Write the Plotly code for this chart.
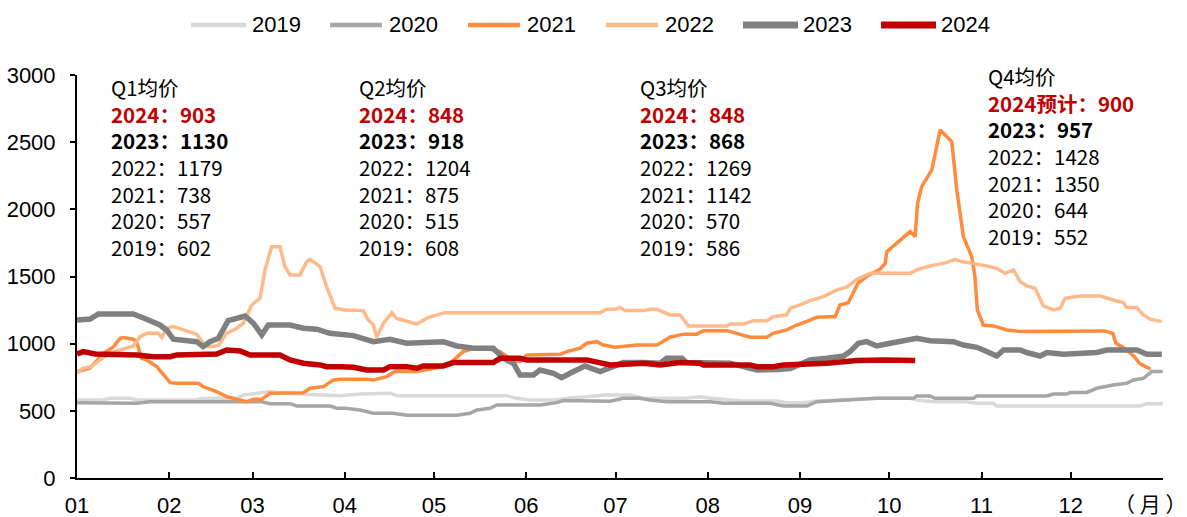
import plotly.graph_objects as go

# ---------------- data (x = day of year, 0 = 1 Jan) ----------------
month_ticks = [0, 31, 59, 90, 120, 151, 181, 212, 243, 273, 304, 334]
month_labels = ["01", "02", "03", "04", "05", "06", "07", "08", "09", "10", "11", "12"]

day_2019 = [0, 8.9, 11.1, 17.8, 20.1, 40.2, 42.4, 53.7, 55.9, 60.4, 64.9, 69.4, 88.4, 95.1, 105.2, 107.5,
            144.4, 147.7, 152.3, 161.2, 164.6, 171.3, 178.0, 185.9, 190.4, 204.9, 209.4, 212.8, 224.0,
            235.2, 238.5, 244.1, 248.6, 268.8, 280.0, 282.2, 287.8, 298.9, 302.4, 307.9, 309.1, 357.3,
            359.6, 364.9]
price_2019 = [581, 581, 593, 593, 581, 581, 593, 593, 618, 630, 643, 630, 613, 625, 630, 613,
              613, 593, 581, 581, 593, 605, 618, 618, 593, 593, 605, 593, 573,
              573, 561, 561, 573, 593, 593, 581, 568, 568, 556, 556, 536, 536,
              553, 553]

day_2020 = [0, 20.1, 24.6, 62.1, 64.9, 71.6, 73.9, 85.0, 87.3, 90.1, 95.1, 99.6, 106.3, 110.8, 127.6,
            132.1, 134.4, 138.8, 141.1, 155.6, 161.2, 163.5, 179.2, 183.6, 189.2, 192.6, 198.2, 212.8,
            217.3, 233.0, 237.4, 245.3, 248.6, 257.6, 268.8, 281.1, 282.2, 286.7, 288.4, 301.3, 302.4,
            325.9, 328.2, 332.7, 333.8, 339.4, 342.7, 348.3, 352.8, 355.1, 358.4, 361.2, 364.9]
price_2020 = [561, 556, 568, 568, 553, 553, 536, 536, 519, 519, 506, 482, 482, 467, 467,
              482, 506, 519, 544, 544, 561, 576, 572, 593, 593, 581, 568, 568,
              556, 556, 536, 536, 568, 581, 593, 593, 611, 611, 593, 593, 611,
              611, 625, 625, 637, 637, 668, 692, 705, 730, 742, 792, 792]

day_2021 = [0, 4.4, 8.9, 12.3, 14.5, 15.6, 18.9, 20.1, 21.7, 23.4, 26.8, 31.3, 33.5, 40.8, 42.4, 46.9,
            50.3, 54.8, 57.0, 59.3, 62.1, 64.9, 76.1, 78.3, 82.8, 86.2, 88.4, 97.4, 99.6, 104.1, 106.9,
            114.2, 117.5, 123.1, 125.3, 129.8, 133.2, 137.6, 142.2, 146.7, 148.9, 151.2, 162.4, 164.6,
            169.1, 171.3, 174.7, 176.9, 180.8, 188.1, 194.9, 199.3, 203.8, 208.3, 210.5, 218.4, 221.7,
            226.2, 231.8, 234.0, 238.5, 241.9, 246.4, 248.6, 252.5, 254.8, 256.4, 259.2, 262.5, 265.4,
            269.9, 271.6, 272.2, 280.0, 281.7, 282.5, 283.9, 287.3, 290.1, 294.0, 295.7, 297.9, 300.7,
            301.8, 302.6, 304.6, 308.0, 312.5, 317.0, 345.3, 348.1, 349.2, 352.0, 355.4, 357.1, 360.8]
price_2021 = [790, 820, 928, 978, 1040, 1046, 1033, 1010, 891, 879, 829, 710, 705, 705, 680, 643,
              606, 581, 568, 586, 586, 631, 635, 668, 680, 730, 735, 735, 730, 755, 792,
              792, 804, 829, 854, 941, 966, 966, 940, 870, 866, 916, 921, 941,
              966, 1003, 1015, 990, 973, 990, 990, 1048, 1071, 1071, 1097, 1097, 1077,
              1048, 1048, 1077, 1103, 1139, 1176, 1196, 1201, 1201, 1288, 1305, 1450, 1500,
              1554, 1598, 1685, 1834, 1797, 2045, 2169, 2293, 2591, 2504, 2144, 1797, 1648,
              1499, 1251, 1139, 1132, 1102, 1090, 1095, 1077, 1003, 966, 903, 854, 809]

day_2022 = [0, 2.1, 4.9, 7.7, 11.1, 14.5, 18.9, 21.2, 23.4, 27.3, 28.5, 30.1, 32.4, 40.2, 43.0, 44.7,
            47.5, 50.3, 53.7, 55.9, 58.7, 61.5, 63.2, 65.4, 68.2, 69.9, 71.6, 74.9, 77.2, 78.3, 81.7,
            83.9, 86.7, 90.1, 96.2, 97.9, 99.6, 100.7, 103.0, 105.8, 107.5, 114.2, 118.1, 123.7, 175.8,
            178.0, 180.8, 182.5, 184.2, 190.4, 192.6, 194.9, 199.3, 202.7, 205.5, 218.4, 219.5, 224.0,
            227.3, 231.8, 234.0, 238.5, 239.7, 243.0, 246.4, 250.9, 255.4, 258.7, 262.1, 266.6, 271.6,
            280.0, 282.2, 286.7, 292.3, 295.1, 297.3, 301.3, 305.8, 309.1, 311.9, 314.7, 317.0, 319.2,
            322.0, 324.8, 328.2, 330.4, 332.1, 337.1, 343.9, 348.3, 351.7, 352.8, 356.2, 358.4, 360.7,
            364.6]
price_2022 = [780, 817, 829, 879, 929, 953, 983, 1052, 1077, 1077, 1046, 1115, 1127, 1071, 990, 978,
              985, 1077, 1115, 1152, 1288, 1338, 1549, 1722, 1722, 1573, 1512, 1512, 1611, 1628, 1573,
              1425, 1264, 1251, 1246, 1176, 1139, 1048, 1152, 1231, 1188, 1146, 1196, 1231, 1231,
              1256, 1256, 1269, 1246, 1246, 1256, 1256, 1214, 1214, 1132, 1132, 1146, 1146,
              1171, 1171, 1201, 1214, 1264, 1288, 1320, 1350, 1400, 1420, 1479, 1524, 1524,
              1524, 1549, 1579, 1603, 1628, 1611, 1598, 1579, 1561, 1524, 1549, 1462, 1430,
              1412, 1281, 1251, 1264, 1338, 1355, 1355, 1325, 1306, 1269, 1269, 1214, 1182,
              1164]

day_2023 = [0, 4.4, 7.2, 18.9, 23.4, 27.9, 30.1, 32.4, 40.2, 42.4, 44.7, 47.5, 50.8, 56.5, 59.3, 62.1,
            64.3, 71.6, 76.1, 80.6, 85.0, 90.1, 92.9, 99.6, 105.2, 110.8, 117.5, 123.1, 127.6, 133.2,
            139.9, 143.3, 146.7, 148.9, 153.4, 155.6, 160.1, 162.9, 165.7, 170.7, 175.8, 180.8, 183.6,
            190.4, 196.0, 198.2, 203.3, 204.9, 219.5, 224.0, 228.5, 235.2, 239.7, 241.9, 246.4, 252.0,
            257.6, 259.8, 262.6, 265.4, 268.8, 273.3, 281.1, 282.2, 286.7, 294.6, 297.9, 302.4, 305.8,
            309.1, 311.4, 317.0, 319.2, 323.7, 326.0, 331.5, 342.7, 346.1, 356.2, 359.6, 364.6]
price_2023 = [1176, 1183, 1221, 1221, 1182, 1139, 1102, 1033, 1015, 978, 1015, 1040, 1171, 1206, 1152, 1065,
              1139, 1139, 1115, 1108, 1077, 1065, 1060, 1015, 1033, 1003, 1015, 1015, 983, 966,
              966, 891, 854, 767, 767, 804, 780, 747, 780, 834, 792, 829, 859,
              859, 855, 891, 891, 859, 855, 829, 804, 808, 815, 836, 879, 891,
              908, 941, 1003, 1015, 983, 1003, 1028, 1040, 1022, 1015, 990, 973, 941,
              908, 953, 953, 934, 908, 934, 921, 934, 953, 953, 921, 921]

day_2024 = [0, 2.1, 6.1, 20.1, 25.6, 31.3, 33.5, 47.0, 50.3, 54.8, 58.2, 68.2, 71.6, 76.1, 81.7, 83.9,
            88.4, 92.9, 97.4, 103.0, 105.2, 110.8, 114.2, 116.4, 123.1, 126.5, 139.9, 142.2, 148.9,
            151.2, 171.3, 176.9, 179.2, 190.4, 196.0, 202.7, 209.4, 210.5, 226.2, 228.5, 234.0, 237.4,
            252.0, 262.1, 271.6, 281.7]
price_2024 = [923, 941, 923, 916, 903, 903, 916, 923, 953, 946, 916, 916, 879, 854, 842, 829,
              829, 824, 804, 804, 829, 829, 817, 834, 834, 859, 859, 891, 891,
              879, 879, 854, 842, 854, 842, 859, 854, 842, 842, 829, 829, 842,
              854, 874, 879, 874]

series_names = ["2019", "2020", "2021", "2022", "2023", "2024"]
series_days = [day_2019, day_2020, day_2021, day_2022, day_2023, day_2024]
series_prices = [price_2019, price_2020, price_2021, price_2022, price_2023, price_2024]
series_colors = ["#D9D9D9", "#A6A6A6", "#FF8B3D", "#FFB98A", "#808080", "#C00000"]
series_widths = [3.5, 3.5, 3.5, 3.5, 5.5, 5.5]

# quarterly average text blocks
quarter_titles = ["Q1均价", "Q2均价", "Q3均价", "Q4均价"]
quarter_2024 = ["2024：903", "2024：848", "2024：848", "2024预计：900"]
quarter_2023 = ["2023：1130", "2023：918", "2023：868", "2023：957"]
quarter_rest = [
    ["2022：1179", "2021：738", "2020：557", "2019：602"],
    ["2022：1204", "2021：875", "2020：515", "2019：608"],
    ["2022：1269", "2021：1142", "2020：570", "2019：586"],
    ["2022：1428", "2021：1350", "2020：644", "2019：552"],
]
quarter_x = [11.1, 94.5, 188.8, 305.9]
quarter_mid = [2316, 2316, 2316, 2398]

# ---------------- figure ----------------
PLOT_L, PLOT_R, PLOT_T, PLOT_B = 77, 1163, 75, 478
W, H = 1187, 517

fig = go.Figure()
for name, xs, ys, col, w in zip(series_names, series_days, series_prices, series_colors, series_widths):
    fig.add_trace(go.Scatter(x=xs, y=ys, name=name, mode="lines", showlegend=False,
                             line=dict(color=col, width=w), hoverinfo="skip"))

cjk = "Noto Sans CJK SC"
latin = "Liberation Sans, Arial"
ann = []
for qi in range(4):
    lines = [quarter_titles[qi],
             "<span style='color:#C00000'><b>%s</b></span>" % quarter_2024[qi],
             "<b>%s</b>" % quarter_2023[qi]] + quarter_rest[qi]
    ann.append(dict(x=quarter_x[qi], y=quarter_mid[qi], xref="x", yref="y",
                    text="<br>".join(lines), showarrow=False, align="left",
                    xanchor="left", yanchor="middle", borderpad=0,
                    font=dict(family=cjk, size=20.5, color="#000000")))
ann.append(dict(x=(1150 - PLOT_L) / (PLOT_R - PLOT_L), y=-(503 - PLOT_B) / (PLOT_B - PLOT_T),
                xref="paper", yref="paper", text="（ 月 ）", showarrow=False,
                xanchor="center", yanchor="middle", font=dict(family=cjk, size=21, color="#000000")))

# manual legend (line samples + labels) drawn above the plot
legend_line_px = [(191, 246), (330, 382), (468, 520), (606, 658), (743, 798), (881, 936)]
legend_text_px = [251, 388, 526, 664, 802, 940]
legend_y = (PLOT_B - 25) / (PLOT_B - PLOT_T)
legend_line_w = [4.5, 4.5, 4.5, 4.5, 7, 7]
shapes = []
for i, name in enumerate(series_names):
    x0, x1 = legend_line_px[i]
    shapes.append(dict(type="line", xref="paper", yref="paper",
                       x0=(x0 - PLOT_L) / (PLOT_R - PLOT_L), x1=(x1 - PLOT_L) / (PLOT_R - PLOT_L),
                       y0=legend_y, y1=legend_y,
                       line=dict(color=series_colors[i], width=legend_line_w[i])))
    ann.append(dict(x=(legend_text_px[i] - PLOT_L) / (PLOT_R - PLOT_L), y=legend_y,
                    xref="paper", yref="paper", text=name, showarrow=False,
                    xanchor="left", yanchor="middle", borderpad=0,
                    font=dict(family=latin, size=22, color="#000000")))

fig.update_layout(
    width=W, height=H,
    margin=dict(l=PLOT_L, r=W - PLOT_R, t=PLOT_T, b=H - PLOT_B, autoexpand=False),
    paper_bgcolor="white", plot_bgcolor="white",
    font=dict(family=latin, size=22, color="#000000"),
    showlegend=False,
    annotations=ann,
    shapes=shapes,
    xaxis=dict(range=[0, 365], tickvals=month_ticks, ticktext=month_labels,
               showline=True, linecolor="#000000", linewidth=2,
               ticks="inside", ticklen=6, tickwidth=2, tickcolor="#000000",
               showgrid=False, zeroline=False, ticklabelstandoff=7,
               tickfont=dict(family=latin, size=22)),
    yaxis=dict(range=[0, 3000], dtick=500, tick0=0,
               showline=True, linecolor="#000000", linewidth=2,
               ticks="outside", ticklen=5, tickwidth=2, tickcolor="#000000",
               showgrid=False, zeroline=False, ticklabelstandoff=10,
               tickfont=dict(family=latin, size=22)),
)

fig.write_html("out.html", config={"displayModeBar": False, "staticPlot": True},
               post_script="document.body.style.margin='0px';")
